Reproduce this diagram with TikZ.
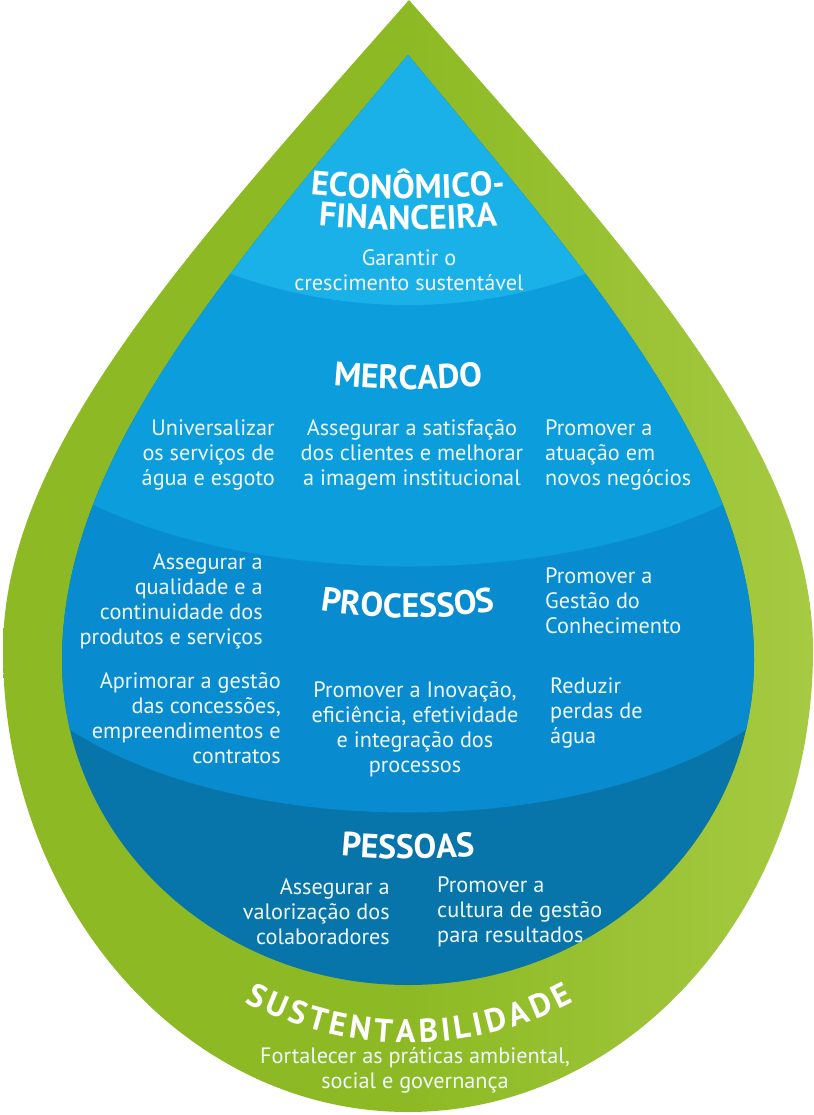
\documentclass[tikz,border=0pt]{standalone}
\usepackage{fontspec}
\setmainfont{PT Sans}
\usetikzlibrary{decorations.text}
\definecolor{grn}{RGB}{141,186,36}
\definecolor{grnlt}{RGB}{166,202,66}
\definecolor{bandA}{RGB}{26,177,232}
\definecolor{bandB}{RGB}{12,157,220}
\definecolor{bandC}{RGB}{9,140,207}
\definecolor{bandD}{RGB}{8,117,170}
\definecolor{txtw}{RGB}{240,248,252}
\newcommand{\bodyfnt}{\fontsize{19}{21.3}\selectfont}
\newcommand{\headfnt}{\fontsize{29}{32}\selectfont\bfseries}
\newcommand{\sustfnt}{\fontsize{28}{32}\selectfont\bfseries}
\begin{document}
\begin{tikzpicture}[x=0.03cm,y=-0.03cm,
  body/.style={text=txtw, font=\bodyfnt, inner sep=0pt},
  headline/.style={decorate, decoration={text along path, text align=center, text={|\headfnt\color{white}|#1}}}]
\fill[white] (0,0) rectangle (814,1115);
\useasboundingbox (0,0) rectangle (814,1115);
% outer green drop
\path[left color=grn, right color=grnlt, middle color=grn]
  (409,0) .. controls (189,250) and (3,450) .. (3,650)
  .. controls (3,905) and (184,1112) .. (408,1112)
  .. controls (632,1112) and (813,905) .. (813,650)
  .. controls (813,450) and (629,250) .. (409,0) -- cycle;
% inner blue drop with bands
\begin{scope}
\clip (408,55) .. controls (225,275) and (62,460) .. (62,660)
  .. controls (62,840) and (217,985) .. (408,985)
  .. controls (599,985) and (754,840) .. (754,660)
  .. controls (754,460) and (591,275) .. (408,55) -- cycle;
\fill[bandD] (0,0) rectangle (814,1115);
\fill[bandC] (0,0) -- (0,700) -- (30,700) .. controls (200,850) and (616,850) .. (786,700) -- (814,700) -- (814,0) -- cycle;
\fill[bandB] (0,0) -- (0,465) -- (28,465) .. controls (200,600) and (616,600) .. (788,465) -- (814,465) -- (814,0) -- cycle;
\fill[bandA] (408,-213) circle[radius=518];
\end{scope}
% headings
\path[headline={ECONÔMICO-}] (290,192) .. controls (365,201) and (451,201) .. (526,192);
\path[headline={FINANCEIRA}] (290,223) .. controls (365,232) and (451,232) .. (526,223);
\path[headline={MERCADO}] (310,383) .. controls (375,391) and (441,391) .. (506,383);
\path[headline={PROCESSOS}] (290,605) .. controls (365,622) and (451,622) .. (526,605);
\path[headline={PESSOAS}] (310,852) .. controls (375,861) and (441,861) .. (506,852);
\path[decorate, decoration={text along path, text align=fit to path, text={|\sustfnt\color{white}|SUSTENTABILIDADE}}]
  (244.7,1002) .. controls (347.5,1056.6) and (470.5,1056.6) .. (573.3,1002);
% texts
\node[body, align=center] (ef) at (409,270) {Garantir o\\crescimento sustentável};
\node[body, anchor=east, align=right] (m1) at (275,455) {Universalizar\\os serviços de\\água e esgoto};
\node[body, align=center] (m2) at (412,455) {Assegurar a satisfação\\dos clientes e melhorar\\a imagem institucional};
\node[body, anchor=west, align=left] (m3) at (545,455) {Promover a\\atuação em\\novos negócios};
\node[body, anchor=east, align=right] (p1) at (263,601) {Assegurar a\\qualidade e a\\continuidade dos\\produtos e serviços};
\node[body, anchor=west, align=left] (p2) at (545,601) {Promover a\\Gestão do\\Conhecimento};
\node[body, anchor=east, align=right] (p3) at (281,718) {Aprimorar a gestão\\das concessões,\\empreendimentos e\\contratos};
\node[body, align=center] (p4) at (415,729) {Promover a Inovação,\\eficiência, efetividade\\e integração dos\\processos};
\node[body, anchor=west, align=left] (p5) at (550,713) {Reduzir\\perdas de\\água};
\node[body, anchor=east, align=right] (q1) at (390,912) {Assegurar a\\valorização dos\\colaboradores};
\node[body, anchor=west, align=left] (q2) at (437,912) {Promover a\\cultura de gestão\\para resultados};
\node[body, align=center] (s1) at (415,1070) {Fortalecer as práticas ambiental,\\social e governança};
\end{tikzpicture}
\end{document}
